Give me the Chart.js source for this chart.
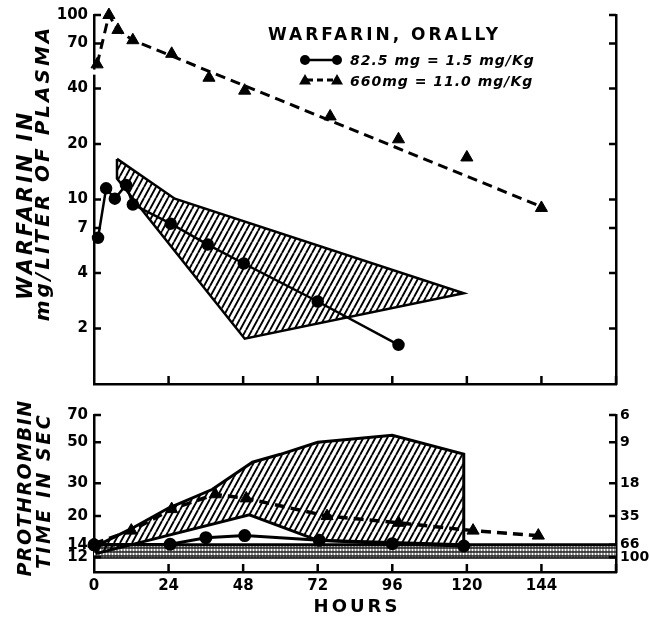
<!DOCTYPE html>
<html>
<head>
<meta charset="utf-8">
<script src="https://cdn.jsdelivr.net/npm/chart.js@4.4.1/dist/chart.umd.min.js"></script>
<style>
  html, body { margin: 0; padding: 0; background: #fff; }
  #wrap { position: relative; width: 650px; height: 620px; overflow: hidden; }
  #plasma { position: absolute; left: 0; top: 0; }
  #prothrombin { position: absolute; left: 0; top: 400px; }
</style>
</head>
<body>
<div id="wrap">
  <canvas id="plasma" width="650" height="400"></canvas>
  <canvas id="prothrombin" width="650" height="220"></canvas>
</div>
<script>
// ---- time axis ----
const hourTicks = [0, 24, 48, 72, 96, 120, 144];
const hourMax = 168;

// ---- plasma warfarin (mg/L), log axis ----
const plasmaTicks = [100, 70, 40, 20, 10, 7, 4, 2];

// 82.5 mg = 1.5 mg/kg (circles, solid line)
const lowDoseHours  = [1.3, 3.9, 6.7, 10.3, 12.5, 24.7, 36.6, 48.2, 72, 98];
const lowDosePlasma = [6.2, 11.5, 10.1, 12.0, 9.4, 7.4, 5.7, 4.5, 2.8, 1.63];

// 660 mg = 11.0 mg/kg (triangles)
const highDoseHours  = [1, 4.8, 7.7, 12.5, 25, 37, 48.5, 76, 98, 120, 144];
const highDosePlasma = [54, 100, 83, 73, 61.6, 45.7, 38.9, 28.2, 21.2, 16.9, 9.0];

// dashed decay line for the 660 mg dose
const highDoseTrendHours  = [1, 4.8, 7.7, 12.5, 145];
const highDoseTrendPlasma = [54, 100, 83, 73, 9.0];

// range of individual subjects, 82.5 mg dose (hatched envelope)
const plasmaRangeHours  = [7.4, 26, 119, 48.5, 7.4, 7.4];
const plasmaRangeValues = [16.6, 10.1, 3.1, 1.76, 13, 16.6];

// ---- prothrombin time (sec), log axis ----
const ptTicks = [70, 50, 30, 20, 14, 12];
const ptActivityLabels = ['6', '9', '18', '35', '66', '100'];

const lowDosePTHours = [0, 24.5, 36, 48.5, 72.5, 96, 119];
const lowDosePT      = [14.0, 14.1, 15.3, 15.7, 14.8, 14.2, 13.8];

const highDosePTHours = [0, 12, 25, 39, 49, 75, 98, 122, 143];
const highDosePT      = [14.2, 16.7, 21.8, 26.2, 24.9, 20.0, 18.4, 16.7, 15.7];

// range of individual subjects, 660 mg dose (hatched envelope)
const ptRangeHours  = [0, 12, 24, 38, 51, 60, 72, 96, 119, 119, 72, 50, 1, 0];
const ptRangeValues = [13.6, 17.1, 22.1, 27.8, 39, 43, 49.9, 54.4, 43.1, 14, 14.8, 20.3, 12.6, 13.6];

// normal prothrombin range (stippled band)
const normalBandHours = [0, 168];
const normalLowPT = 12;
const normalHighPT = 14;

function pts(xs, ys) { return xs.map((x, i) => ({ x: x, y: ys[i] })); }
function flat(xs, v) { return xs.map(x => ({ x: x, y: v })); }

// steep "////" hatching
function makeHatch() {
  const W = 6, H = 11;
  const c = document.createElement('canvas');
  c.width = W; c.height = H;
  const g = c.getContext('2d');
  g.strokeStyle = '#000';
  g.lineWidth = 1.9;
  g.beginPath();
  for (const dx of [-W, 0, W]) {
    g.moveTo(dx, H); g.lineTo(dx + W, 0);
  }
  g.stroke();
  return g.createPattern(c, 'repeat');
}
// row of small rings for the normal band
function makeStipple() {
  const c = document.createElement('canvas');
  c.width = 3; c.height = 4;
  const g = c.getContext('2d');
  g.fillStyle = '#3a3a3a';
  g.fillRect(0, 0, 3, 4);
  g.fillStyle = '#fff';
  g.beginPath();
  g.arc(1.5, 2, 1.15, 0, Math.PI * 2);
  g.fill();
  return g.createPattern(c, 'repeat');
}
const hatch = makeHatch();
const stipple = makeStipple();

Chart.defaults.font.family = "'DejaVu Sans', sans-serif";
Chart.defaults.font.weight = 'bold';
Chart.defaults.font.size = 15;
Chart.defaults.color = '#000';

const AXIS_W = 2.5;
const borderOpts = { display: true, width: AXIS_W, color: '#000' };
const noGrid = { display: false, drawTicks: false };

// short tick marks pointing into the plot, on all three framed sides
function innerTicksPlugin(yTicks, xTicks, extra) {
  return {
    id: 'innerTicks',
    afterDraw(chart) {
      const { ctx, chartArea: a, scales } = chart;
      ctx.save();
      ctx.strokeStyle = '#000';
      ctx.lineWidth = AXIS_W;
      ctx.beginPath();
      for (const v of yTicks) {
        const y = scales.y.getPixelForValue(v);
        ctx.moveTo(a.left, y); ctx.lineTo(a.left + 7, y);
        ctx.moveTo(a.right, y); ctx.lineTo(a.right - 7, y);
      }
      for (const h of xTicks) {
        if (h === 0) continue;
        const x = scales.x.getPixelForValue(h);
        ctx.moveTo(x, a.bottom); ctx.lineTo(x, a.bottom - 8);
      }
      ctx.stroke();
      ctx.restore();
      if (extra) extra(chart);
    }
  };
}

function spacedText(ctx, text, x, y, font, spacing, align) {
  ctx.font = font;
  ctx.letterSpacing = spacing + 'px';
  ctx.textAlign = align || 'left';
  ctx.textBaseline = 'alphabetic';
  ctx.fillText(text, x, y);
  ctx.letterSpacing = '0px';
}

function verticalText(ctx, text, x, y, font, spacing) {
  ctx.save();
  ctx.translate(x, y);
  ctx.rotate(-Math.PI / 2);
  spacedText(ctx, text, 0, 0, font, spacing, 'center');
  ctx.restore();
}

// titles, legend and the small break in the left axis of the plasma panel
function plasmaDecor(chart) {
  const { ctx, chartArea: a, scales } = chart;
  ctx.save();
  // axis break
  const yb1 = scales.y.getPixelForValue(50.6);
  const yb2 = scales.y.getPixelForValue(47.5);
  ctx.fillStyle = '#fff';
  ctx.fillRect(a.left - 3, yb1, 6, yb2 - yb1);

  ctx.fillStyle = '#000';
  verticalText(ctx, 'WARFARIN IN', 32, 205, "italic bold 21px 'DejaVu Sans'", 3);
  verticalText(ctx, 'mg/LITER OF PLASMA', 49, 173, "italic bold 20px 'DejaVu Sans'", 3);

  // legend
  spacedText(ctx, 'WARFARIN, ORALLY', 268, 40, "bold 17px 'DejaVu Sans'", 3);
  ctx.strokeStyle = '#000';
  ctx.lineWidth = 2.5;
  ctx.beginPath(); ctx.moveTo(305, 60); ctx.lineTo(337, 60); ctx.stroke();
  for (const cx of [305, 337]) {
    ctx.beginPath(); ctx.arc(cx, 60, 5, 0, Math.PI * 2); ctx.fill();
  }
  ctx.lineWidth = 3;
  ctx.setLineDash([6, 4]);
  ctx.beginPath(); ctx.moveTo(307, 80); ctx.lineTo(335, 80); ctx.stroke();
  ctx.setLineDash([]);
  for (const cx of [305, 337]) {
    ctx.beginPath();
    ctx.moveTo(cx, 74); ctx.lineTo(cx + 6, 84.5); ctx.lineTo(cx - 6, 84.5);
    ctx.closePath(); ctx.fill();
  }
  spacedText(ctx, '82.5 mg = 1.5 mg/Kg', 350, 65, "italic bold 14px 'DejaVu Sans'", 1);
  spacedText(ctx, '660mg = 11.0 mg/Kg', 350, 86, "italic bold 14px 'DejaVu Sans'", 1);
  ctx.restore();
}

function ptDecor(chart) {
  const { ctx } = chart;
  ctx.save();
  ctx.fillStyle = '#000';
  verticalText(ctx, 'PROTHROMBIN', 31, 88, "italic bold 19px 'DejaVu Sans'", 1.5);
  verticalText(ctx, 'TIME IN SEC', 50, 91, "italic bold 19px 'DejaVu Sans'", 2.5);
  spacedText(ctx, 'HOURS', 357, 212, "bold 18px 'DejaVu Sans'", 3, 'center');
  ctx.restore();
}

// ---- plasma concentration panel ----
new Chart(document.getElementById('plasma'), {
  type: 'line',
  data: {
    datasets: [
      {
        label: 'range 82.5 mg',
        data: pts(plasmaRangeHours, plasmaRangeValues),
        borderColor: '#000', borderWidth: 2.5,
        backgroundColor: hatch, fill: 'shape',
        pointRadius: 0, order: 5, clip: false
      },
      {
        label: '660 mg trend',
        data: pts(highDoseTrendHours, highDoseTrendPlasma),
        borderColor: '#000', borderWidth: 3, borderDash: [10, 6],
        pointRadius: 0, fill: false, order: 3, clip: false
      },
      {
        label: '660mg = 11.0 mg/Kg',
        data: pts(highDoseHours, highDosePlasma),
        showLine: false, pointStyle: 'triangle', pointRadius: 7,
        pointBackgroundColor: '#000', pointBorderColor: '#000', pointBorderWidth: 1,
        order: 1, clip: false
      },
      {
        label: '82.5 mg = 1.5 mg/Kg',
        data: pts(lowDoseHours, lowDosePlasma),
        borderColor: '#000', borderWidth: 2.5, fill: false,
        pointRadius: 5, pointBackgroundColor: '#000', pointBorderColor: '#000',
        order: 2, clip: false
      }
    ]
  },
  options: {
    responsive: false, animation: false, devicePixelRatio: 1,
    layout: { padding: { top: 13, left: 0, right: 0, bottom: 0 } },
    plugins: { legend: { display: false }, tooltip: { enabled: false } },
    scales: {
      x: {
        type: 'linear', min: 0, max: hourMax, position: 'bottom',
        ticks: { display: false }, grid: noGrid, border: borderOpts,
        afterFit(s) { s.height = 16; }
      },
      y: {
        type: 'logarithmic', min: 1, max: 100, position: 'left',
        afterBuildTicks(s) { s.ticks = plasmaTicks.map(v => ({ value: v })); },
        ticks: { autoSkip: false, padding: 6, callback: v => String(v) },
        grid: noGrid, border: borderOpts,
        afterFit(s) { s.width = 94; }
      },
      y2: {
        type: 'logarithmic', min: 1, max: 100, position: 'right',
        ticks: { display: false }, grid: noGrid, border: borderOpts,
        afterFit(s) { s.width = 34; }
      }
    }
  },
  plugins: [innerTicksPlugin(plasmaTicks, hourTicks.concat([hourMax]), plasmaDecor)]
});

// ---- prothrombin time panel ----
new Chart(document.getElementById('prothrombin'), {
  type: 'line',
  data: {
    datasets: [
      {
        label: 'range 660 mg',
        data: pts(ptRangeHours, ptRangeValues),
        borderColor: '#000', borderWidth: 3,
        backgroundColor: hatch, fill: 'shape',
        pointRadius: 0, order: 5, clip: false
      },
      {
        label: 'normal low',
        data: flat(normalBandHours, normalLowPT),
        borderColor: '#000', borderWidth: 3, fill: false,
        pointRadius: 0, order: 7, clip: false
      },
      {
        label: 'normal high',
        data: flat(normalBandHours, normalHighPT),
        borderColor: '#000', borderWidth: 3,
        backgroundColor: stipple, fill: { value: normalLowPT },
        pointRadius: 0, order: 6, clip: false
      },
      {
        label: '660mg = 11.0 mg/Kg',
        data: pts(highDosePTHours, highDosePT),
        borderColor: '#000', borderWidth: 3.5, borderDash: [10, 6], fill: false,
        pointStyle: 'triangle', pointRadius: 7,
        pointBackgroundColor: '#000', pointBorderColor: '#000', pointBorderWidth: 1,
        order: 1, clip: false
      },
      {
        label: '82.5 mg = 1.5 mg/Kg',
        data: pts(lowDosePTHours, lowDosePT),
        borderColor: '#000', borderWidth: 3, fill: false,
        pointRadius: 5, pointBackgroundColor: '#000', pointBorderColor: '#000',
        order: 2, clip: false
      }
    ]
  },
  options: {
    responsive: false, animation: false, devicePixelRatio: 1,
    layout: { padding: { top: 12, left: 0, right: 0, bottom: 0 } },
    plugins: { legend: { display: false }, tooltip: { enabled: false } },
    scales: {
      x: {
        type: 'linear', min: 0, max: hourMax, position: 'bottom',
        afterBuildTicks(s) { s.ticks = hourTicks.map(v => ({ value: v })); },
        ticks: { autoSkip: false, maxRotation: 0, padding: 5, callback: v => String(v) },
        grid: noGrid, border: borderOpts,
        afterFit(s) { s.height = 48; }
      },
      y: {
        type: 'logarithmic', min: 10, max: 70, position: 'left',
        afterBuildTicks(s) { s.ticks = ptTicks.map(v => ({ value: v })); },
        ticks: { autoSkip: false, padding: 6, callback: v => String(v) },
        grid: noGrid, border: borderOpts,
        afterFit(s) { s.width = 94; }
      },
      y2: {
        type: 'logarithmic', min: 10, max: 70, position: 'right',
        afterBuildTicks(s) { s.ticks = ptTicks.map(v => ({ value: v })); },
        ticks: { autoSkip: false, padding: 4, font: { size: 14 }, callback: v => ptActivityLabels[ptTicks.indexOf(v)] },
        grid: noGrid, border: borderOpts,
        afterFit(s) { s.width = 34; }
      }
    }
  },
  plugins: [innerTicksPlugin(ptTicks, hourTicks.concat([hourMax]), ptDecor)]
});
</script>
</body>
</html>
